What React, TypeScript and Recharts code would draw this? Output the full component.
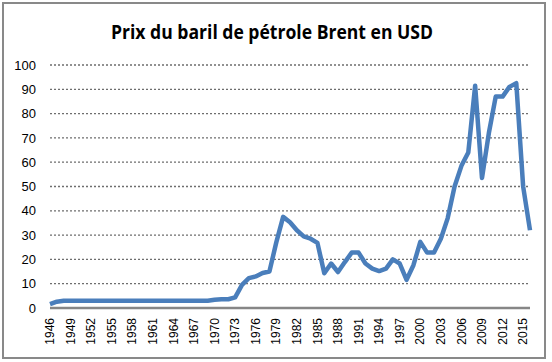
import { LineChart, Line, XAxis, YAxis, CartesianGrid } from "recharts";

const years: string[] = [
  "1946", "1947", "1948", "1949", "1950", "1951", "1952", "1953", "1954", "1955",
  "1956", "1957", "1958", "1959", "1960", "1961", "1962", "1963", "1964", "1965",
  "1966", "1967", "1968", "1969", "1970", "1971", "1972", "1973", "1974", "1975",
  "1976", "1977", "1978", "1979", "1980", "1981", "1982", "1983", "1984", "1985",
  "1986", "1987", "1988", "1989", "1990", "1991", "1992", "1993", "1994", "1995",
  "1996", "1997", "1998", "1999", "2000", "2001", "2002", "2003", "2004", "2005",
  "2006", "2007", "2008", "2009", "2010", "2011", "2012", "2013", "2014", "2015",
  "2016",
];

// prix annuel en USD
const prices: number[] = [
  1.6, 2.6, 3.0, 3.0, 3.0, 3.0, 3.0, 3.0, 3.0, 3.0,
  3.0, 3.0, 3.0, 3.0, 3.0, 3.0, 3.0, 3.0, 3.0, 3.0,
  3.0, 3.0, 3.0, 3.0, 3.4, 3.6, 3.6, 4.4, 9.5, 12.3,
  13.0, 14.4, 15.0, 27.0, 37.5, 35.3, 32.0, 29.5, 28.5, 26.8,
  14.3, 18.3, 14.8, 18.9, 22.8, 22.8, 18.3, 16.2, 15.2, 16.2,
  20.0, 18.3, 11.6, 17.6, 27.2, 22.8, 22.8, 28.5, 37.0, 50.0,
  58.5, 64.0, 91.5, 53.5, 72.0, 87.0, 87.0, 91.0, 92.5, 50.0,
  32.0,
];

const yTicks: number[] = [0, 10, 20, 30, 40, 50, 60, 70, 80, 90, 100];

const title = "Prix du baril de pétrole Brent en USD";

const data = years.map((year, i) => ({ year, brent: prices[i] }));

const YearTick = (props: any) => {
  const { x, y, payload } = props;
  return (
    <text
      transform={`translate(${x},${y}) rotate(-90)`}
      textAnchor="end"
      dy="0.35em"
      fontSize={12}
      fontFamily="'Liberation Sans', Arial, sans-serif"
      fill="#000"
    >
      {payload.value}
    </text>
  );
};

export default function App() {
  return (
    <div style={{ width: 552, height: 362, position: "relative", background: "#fff" }}>
      <style>{`body { margin: 0; }`}</style>
      <div style={{ position: "absolute", left: 0, top: 0 }}>
        <LineChart
          width={552}
          height={362}
          data={data}
          margin={{ top: 65, right: 22, left: 6, bottom: 0 }}
        >
          <CartesianGrid
            vertical={false}
            stroke="#6e6e6e"
            strokeWidth={1.3}
            strokeDasharray="2 2"
          />
          <XAxis
            dataKey="year"
            interval={2}
            height={54}
            tickLine={false}
            tickMargin={4}
            tickSize={6}
            axisLine={{ stroke: "#868686", strokeWidth: 2.5 }}
            tick={<YearTick />}
          />
          <YAxis
            width={44}
            domain={[0, 100]}
            ticks={yTicks}
            interval={0}
            axisLine={false}
            tickLine={false}
            tickSize={6}
            tickMargin={8}
            tick={{ fontSize: 13, fill: "#000", fontFamily: "'Liberation Sans', Arial, sans-serif" }}
          />
          <Line
            type="linear"
            dataKey="brent"
            stroke="#4A7EBB"
            strokeWidth={4.5}
            strokeLinejoin="round"
            dot={false}
            activeDot={false}
            isAnimationActive={false}
          />
        </LineChart>
      </div>
      <svg
        width={552}
        height={362}
        style={{ position: "absolute", left: 0, top: 0, pointerEvents: "none" }}
      >
        <rect x={3} y={3} width={542} height={355} fill="none" stroke="#898989" strokeWidth={2} />
        <text
          x={272}
          y={39}
          textAnchor="middle"
          fontSize={19}
          fontWeight="bold"
          fontFamily="'Open Sans', sans-serif"
          textLength={322}
          lengthAdjust="spacingAndGlyphs"
          fill="#000"
        >
          {title}
        </text>
      </svg>
    </div>
  );
}
